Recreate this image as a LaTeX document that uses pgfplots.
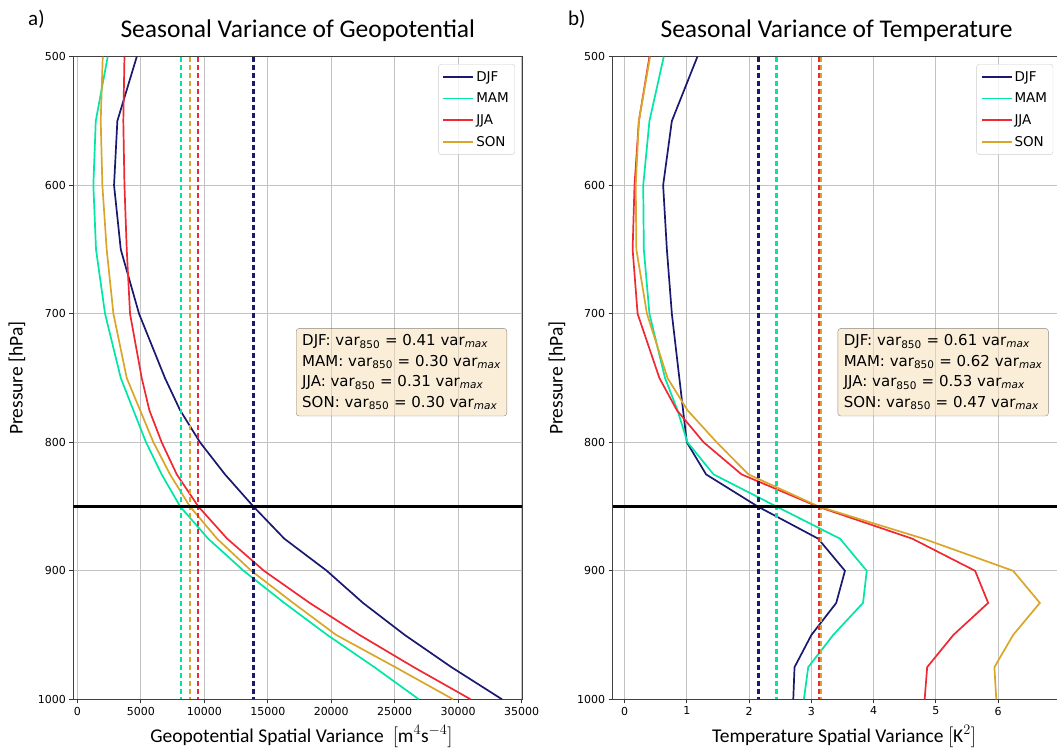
\documentclass[border=0pt]{standalone}
\usepackage{pgfplots}
\pgfplotsset{compat=1.18}
\usepackage{fontspec}
\setmainfont{Carlito}
\newfontfamily\dejavu{DejaVu Sans}
\definecolor{djf}{RGB}{25,25,112}
\definecolor{mam}{RGB}{0,230,165}
\definecolor{jja}{RGB}{240,40,50}
\definecolor{son}{RGB}{218,165,40}
\definecolor{gridc}{RGB}{195,195,195}
\definecolor{boxfill}{RGB}{245,222,179}
\definecolor{legc}{RGB}{205,205,205}

\pgfplotstableread{
P    DJF    MAM    JJA    SON
500  4680   2390   3710   2000
550  3150   1450   3620   1840
600  2890   1260   3710   1970
650  3420   1470   3890   2310
700  4860   2180   4150   2840
750  6900   3420   5070   3890
775  8090   4410   5670   4940
800  9660   5410   6640   5990
825  11630  6640   7830   7300
850  13870  8100   9530   8870
875  16300  10300  11800  11000
900  19650  13100  14700  13700
925  22500  16300  18300  17000
950  25800  19700  22240  20400
975  29470  23400  26500  25050
1000 33450  26900  30980  29600
}\geotab

\pgfplotstableread{
P    DJF   MAM   JJA   SON
500  1.17  0.63  0.40  0.41
550  0.76  0.40  0.23  0.23
600  0.62  0.30  0.16  0.18
650  0.68  0.31  0.13  0.19
700  0.76  0.40  0.21  0.36
750  0.88  0.65  0.56  0.69
775  0.94  0.85  0.84  1.01
800  1.00  1.01  1.27  1.48
825  1.31  1.43  1.88  1.99
850  2.14  2.44  3.10  3.12
875  3.11  3.46  4.62  4.80
900  3.54  3.89  5.63  6.24
925  3.40  3.83  5.84  6.67
950  3.00  3.35  5.28  6.24
975  2.73  2.95  4.86  5.94
1000 2.71  2.88  4.82  5.97
}\temptab

\pgfplotsset{
  panel/.style={
    scale only axis, height=642.6pt,
    y dir=reverse, ymin=500, ymax=1000, ytick={500,600,...,1000},
    grid=major, major grid style={gridc, line width=0.8pt},
    tick align=outside, major tick length=4pt,
    tick style={black!80, line width=0.9pt},
    xtick pos=bottom, ytick pos=left,
    axis line style={black!75, line width=1.1pt},
    ticklabel style={font=\dejavu\fontsize{11}{13}\selectfont},
    /pgf/number format/assume math mode=true,
    /pgf/number format/1000 sep={},
    scaled ticks=false,
    ylabel={Pressure [hPa]},
    label style={font=\fontsize{19.5}{22}\selectfont},
    ylabel style={anchor=center},
    xlabel style={at={(axis description cs:0.5,0)}, anchor=base, yshift=-42.7pt},
    title style={font=\fontsize{25.5}{28}\selectfont, at={(axis description cs:0.5,1)}, anchor=base, yshift=13.7pt},
    legend style={anchor=north east, font=\dejavu\fontsize{13.5}{16}\selectfont,
      draw=legc, rounded corners=3pt, fill=white, fill opacity=0.8, text opacity=1,
      row sep=6.3pt, inner xsep=4pt, inner ysep=5pt, cells={anchor=west}},
    legend image code/.code={\draw[##1, line width=1.9pt] (0pt,0pt) -- (30pt,0pt);},
  },
  curve/.style={line width=1.7pt},
  vdash/.style={line width=2.2pt, dash pattern=on 5pt off 3pt},
}

\newcommand{\vs}{var\textsubscript{850}}
\newcommand{\vm}{var\textsubscript{\itshape max}}

\begin{document}
\begin{tikzpicture}
\useasboundingbox (0,0) rectangle (1057pt,-750pt);

\node[font=\fontsize{21}{24}\selectfont, anchor=base west, inner sep=0pt] at (28pt,-25pt) {a)};
\node[font=\fontsize{21}{24}\selectfont, anchor=base west, inner sep=0pt] at (568pt,-25pt) {b)};

% ---------- Left panel ----------
\begin{axis}[panel, at={(73.3pt,-56.7pt)}, anchor=north west, width=449pt,
  xmin=-320, xmax=35050, xtick={0,5000,...,35000},
  title={Seasonal Variance of Geopotential},
  xlabel={Geopotential Spatial Variance~~$[\mathrm{m}^4\mathrm{s}^{-4}]$},
  xlabel style={xshift=3.7pt},
  ylabel style={at={(axis description cs:-0.1254,0.5)}},
  legend style={at={(rel axis cs:0.9837,0.9886)}}]
\addplot[curve, djf] table[x=DJF, y=P] {\geotab};
\addplot[curve, mam] table[x=MAM, y=P] {\geotab};
\addplot[curve, jja] table[x=JJA, y=P] {\geotab};
\addplot[curve, son] table[x=SON, y=P] {\geotab};
\legend{DJF, MAM, JJA, SON}
\addplot[vdash, mam, forget plot] coordinates {(8140,500) (8140,1000)};
\addplot[vdash, son, forget plot] coordinates {(8850,500) (8850,1000)};
\addplot[vdash, jja, forget plot] coordinates {(9530,500) (9530,1000)};
\addplot[vdash, djf, forget plot] coordinates {(13870,500) (13870,1000)};
\addplot[black, line width=2.2pt, forget plot] coordinates {(-320,850) (35050,850)};
\node[draw=black, draw opacity=0.45, fill=boxfill, fill opacity=0.5, text opacity=1,
  rounded corners=3pt, align=left, inner xsep=6pt, inner ysep=6pt,
  font=\dejavu\fontsize{15}{20.5}\selectfont]
  at (rel axis cs:0.731,0.509)
  {DJF: \vs{} = 0.41 \vm\\ MAM: \vs{} = 0.30 \vm\\ JJA: \vs{} = 0.31 \vm\\ SON: \vs{} = 0.30 \vm};
\end{axis}

% ---------- Right panel ----------
\begin{axis}[panel, at={(612.7pt,-56.7pt)}, anchor=north west, width=447.7pt,
  xmin=-0.19, xmax=7, xtick={0,1,...,7},
  title={Seasonal Variance of Temperature},
  xlabel={Temperature Spatial Variance~$[\mathrm{K}^2]$},
  xlabel style={xshift=7.5pt},
  ylabel style={at={(axis description cs:-0.1244,0.5)}},
  legend style={at={(rel axis cs:0.984,0.9886)}}]
\addplot[curve, djf] table[x=DJF, y=P] {\temptab};
\addplot[curve, mam] table[x=MAM, y=P] {\temptab};
\addplot[curve, jja] table[x=JJA, y=P] {\temptab};
\addplot[curve, son] table[x=SON, y=P] {\temptab};
\legend{DJF, MAM, JJA, SON}
\addplot[vdash, djf, forget plot] coordinates {(2.15,500) (2.15,1000)};
\addplot[vdash, mam, forget plot] coordinates {(2.44,500) (2.44,1000)};
\addplot[vdash, son, forget plot] coordinates {(3.15,500) (3.15,1000)};
\addplot[vdash, jja, forget plot] coordinates {(3.12,500) (3.12,1000)};
\addplot[black, line width=2.2pt, forget plot] coordinates {(-0.19,850) (7,850)};
\node[draw=black, draw opacity=0.45, fill=boxfill, fill opacity=0.5, text opacity=1,
  rounded corners=3pt, align=left, inner xsep=6pt, inner ysep=6pt,
  font=\dejavu\fontsize{15}{20.5}\selectfont]
  at (rel axis cs:0.738,0.509)
  {DJF: \vs{} = 0.61 \vm\\ MAM: \vs{} = 0.62 \vm\\ JJA: \vs{} = 0.53 \vm\\ SON: \vs{} = 0.47 \vm};
\end{axis}
\end{tikzpicture}
\end{document}
